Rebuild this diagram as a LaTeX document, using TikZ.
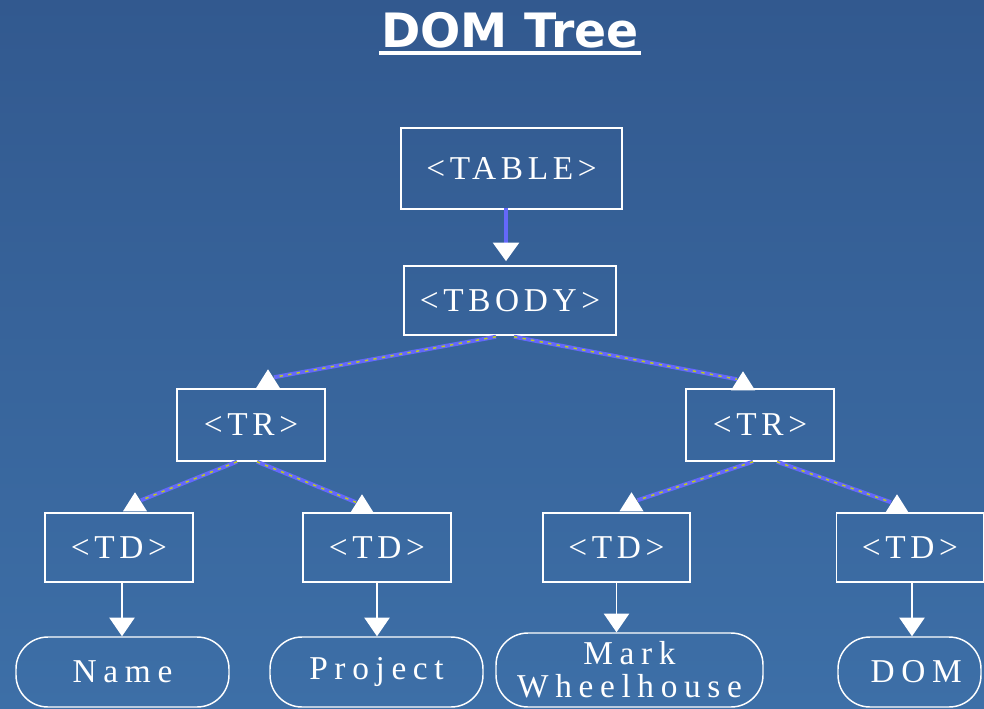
\documentclass[tikz,border=0pt]{standalone}
\usepackage{fontspec}
\usetikzlibrary{arrows.meta,calc}
\newfontfamily\headfont{DejaVu Sans}
\newfontfamily\tagfont[LetterSpace=14]{Liberation Serif}
\newfontfamily\leaffont[LetterSpace=20]{Liberation Serif}
\definecolor{bgtop}{RGB}{50,89,143}
\definecolor{bgbot}{RGB}{61,111,167}
\definecolor{linkblue}{RGB}{100,104,250}
\definecolor{linkgreen}{RGB}{190,205,30}

\begin{document}
\begin{tikzpicture}[x=0.75pt,y=0.75pt,
  tagbox/.style={draw=white, line width=1.1pt, inner sep=0pt, text=white,
    font=\tagfont\fontsize{25}{25}\selectfont},
  leafbox/.style={draw=white, line width=1.1pt, rounded corners=24pt, inner sep=0pt,
    text=white, align=center, font=\leaffont\fontsize{25}{25}\selectfont},
  link/.style={draw=linkblue, line width=3pt,
    postaction={draw=linkgreen, line width=1.1pt, dash pattern=on 2.5pt off 4pt}},
  tiptri/.style={fill=white},
  thicklink/.style={draw=linkblue, line width=3.5pt,
    -{Triangle[width=19pt,length=14pt,color=white,fill=white]}},
  leaflink/.style={draw=white, line width=1pt,
    -{Triangle[width=19pt,length=14pt,fill=white]}}]

% page and background
\useasboundingbox (0,0) rectangle (984,-709);
\clip (0,0) rectangle (984,-709);
\shade[top color=bgtop, bottom color=bgbot] (0,0) rectangle (984,-709);

% heading
\node[anchor=base, inner sep=0pt, text=white,
      font=\headfont\bfseries\fontsize{35.5}{40}\selectfont] (title) at (510,-48) {DOM Tree};
\draw[white, line width=3pt] ($(title.base west)+(-2,-5.5)$) -- ($(title.base east)+(2,-5.5)$);

% element boxes
\node[tagbox, minimum width=165.75pt, minimum height=60.75pt] (table) at (511.5,-168.5) {<TABLE>};
\node[tagbox, minimum width=159pt, minimum height=51.75pt] (tbody) at (510,-300.5) {<TBODY>};
\node[tagbox, minimum width=111pt, minimum height=54pt] (trl) at (251,-425) {<TR>};
\node[tagbox, minimum width=111pt, minimum height=54pt] (trr) at (760,-425) {<TR>};
\node[tagbox, minimum width=111pt, minimum height=51.75pt] (td1) at (119,-547.5) {<TD>};
\node[tagbox, minimum width=111pt, minimum height=51.75pt] (td2) at (377,-547.5) {<TD>};
\node[tagbox, minimum width=110.25pt, minimum height=51.75pt] (td3) at (616.5,-547.5) {<TD>};
\node[tagbox, minimum width=110.25pt, minimum height=51.75pt] (td4) at (910,-547.5) {<TD>};

% text leaves
\node[leafbox, minimum width=159.75pt, minimum height=52.5pt] (name) at (122.5,-672) {Name};
\node[leafbox, minimum width=159.75pt, minimum height=52.5pt] (project) at (376.5,-672) {Project};
\node[leafbox, minimum width=200.25pt, minimum height=55.5pt] (mark) at (629.5,-670) {Mark\\Wheelhouse};
\node[leafbox, minimum width=107.25pt, minimum height=52.5pt] (dom) at (909.5,-672) {\hspace*{10pt}DOM};

% TABLE -> TBODY
\draw[thicklink] ($(tbody.north)+(-4,57)$) -- ($(tbody.north)+(-4,4)$);

% apex points of the upward tips on the child boxes
\coordinate (a-trl) at ($(trl.north)+(17,19)$);
\coordinate (a-trr) at ($(trr.north)+(-17,17)$);
\coordinate (a-td1) at ($(td1.north)+(16,20)$);
\coordinate (a-td2) at ($(td2.north)+(-15,18)$);
\coordinate (a-td3) at ($(td3.north)+(15,20)$);
\coordinate (a-td4) at ($(td4.north)+(-13,18)$);

% slanted links
\draw[link] ($(tbody.south)+(-14,-1)$) -- ($(a-trl)+(6,-8)$);
\draw[link] ($(tbody.south)+(4,-1)$) -- ($(a-trr)+(-6,-8)$);
\draw[link] ($(trl.south)+(-14,0)$) -- ($(a-td1)+(6,-8)$);
\draw[link] ($(trl.south)+(6,0)$) -- ($(a-td2)+(-6,-8)$);
\draw[link] ($(trr.south)+(-7,0)$) -- ($(a-td3)+(6,-8)$);
\draw[link] ($(trr.south)+(17,0)$) -- ($(a-td4)+(-6,-8)$);

% upward tips
\foreach \p in {a-trl,a-trr,a-td1,a-td2,a-td3,a-td4}
  \fill[tiptri] (\p) -- ++(-12,-19) -- ++(24,0) -- cycle;

% TD -> text
\coordinate (s-td1) at ($(td1.south)+(3,0)$);
\coordinate (s-td4) at ($(td4.south)+(2,0)$);
\draw[leaflink] (s-td1) -- (s-td1 |- name.north);
\draw[leaflink] (td2.south) -- (td2.south |- project.north);
\draw[leaflink] (td3.south) -- (td3.south |- mark.north);
\draw[leaflink] (s-td4) -- (s-td4 |- dom.north);
\end{tikzpicture}
\end{document}
